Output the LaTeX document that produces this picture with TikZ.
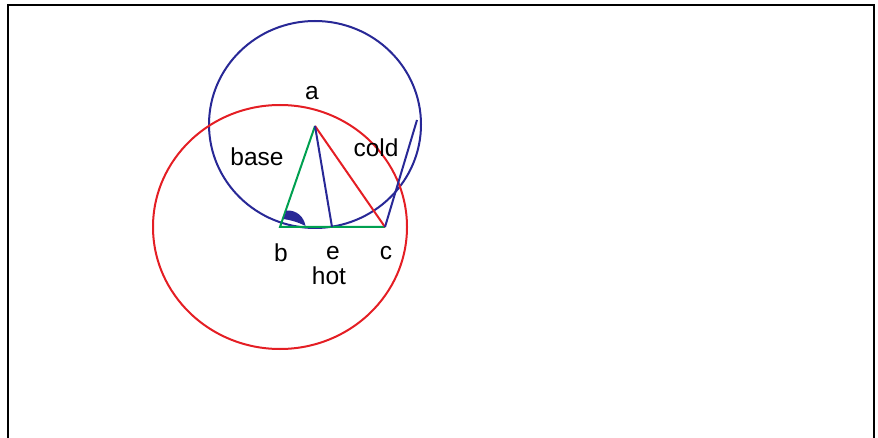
\documentclass[tikz,border=0pt]{standalone}
\usepackage{fontspec}
\setmainfont{Liberation Sans}
\definecolor{cblue}{RGB}{40,40,150}
\definecolor{cred}{RGB}{228,30,36}
\definecolor{cgreen}{RGB}{0,160,80}
\begin{document}
\begin{tikzpicture}[x=1pt,y=-1pt,
  lbl/.style={font=\fontsize{24.5}{28}\selectfont, inner sep=0pt, anchor=center},
  bl/.style={draw=cblue, line width=2pt},
  rd/.style={draw=cred, line width=2pt},
  gr/.style={draw=cgreen, line width=2pt}]
\useasboundingbox (0,0) rectangle (878,438);
\clip (0,0) rectangle (878,438);
\draw[line width=2pt] (8,5) rectangle (874,460);
\coordinate (a) at (315,126);
\coordinate (b) at (280,227);
\coordinate (c) at (385,227);
\coordinate (e) at (332,227);
\coordinate (t) at (417,120);
% circles
\draw[bl] (315,124.5) ellipse [x radius=106, y radius=103.5];
\draw[rd] (280,227) ellipse [x radius=127, y radius=122];
% triangle
\draw[gr] (a) -- (b) -- (c);
\draw[rd] (a) -- (c);
\draw[bl] (a) -- (e);
\draw[bl] (c) -- (t);
% angle mark
\fill[cblue] (283.5,219) -- (286.5,210.5)
  .. controls (297,210) and (304,217) .. (305.5,226)
  .. controls (298,222) and (290,220) .. cycle;
% labels
\node[lbl] (la) at (312,93) {a};
\node[lbl] (lbase) at (257,157) {base};
\node[lbl] (lcold) at (376,148) {cold};
\node[lbl] (lb) at (281,253) {b};
\node[lbl] (le) at (333,253) {e};
\node[lbl] (lc) at (386,253) {c};
\node[lbl] (lhot) at (329,276) {hot};
\end{tikzpicture}
\end{document}
